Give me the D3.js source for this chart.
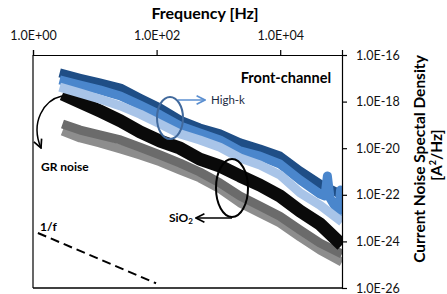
<!DOCTYPE html>
<html lang="en">
<head>
<meta charset="UTF-8">
<title>Current noise spectral density</title>
<script src="https://cdn.jsdelivr.net/npm/d3@7"></script>
<style>
    body { margin: 0; background: #fff; }
    text { font-family: Lato, "Open Sans", sans-serif; }
</style>
</head>
<body>
<svg width="447" height="294"></svg>
<script>

    // frequencies [Hz]
    var freqHighK = [2.7, 5.8, 12, 26, 54, 114, 240, 500, 1060, 2240, 4700, 9900, 21000, 44000, 100000];
    var freqHighK2 = [2.7, 5.8, 12, 26, 54, 114, 240, 500, 1060, 2240, 4700, 9900, 21000, 44000,
        53000, 58000, 64000, 80000, 89000, 94600, 100000];
    var freqSiO2 = [3.0, 5.8, 12, 26, 54, 114, 240, 500, 1060, 2240, 4700, 9900, 21000, 44000, 100000];

    // PSD [A^2/Hz]
    var highK1 = [1.7e-17, 1.0e-17, 6.3e-18, 3.8e-18, 1.4e-18, 5.3e-19, 1.6e-19, 7.4e-20, 4.1e-20,
        1.7e-20, 9.2e-21, 4.6e-21, 1.05e-21, 2.9e-22, 9.8e-23];
    var highK2 = [8.5e-18, 5.1e-18, 3.2e-18, 1.74e-18, 7.1e-19, 2.7e-19, 9.0e-20, 4.5e-20, 2.25e-20,
        7.6e-21, 4.6e-21, 2.1e-21, 4.3e-22, 1.08e-22, 8.9e-23, 6.4e-22, 7.3e-23, 2.7e-23, 1.8e-23,
        1.6e-22, 1.5e-23];
    var highK3 = [4.2e-18, 2.3e-18, 1.3e-18, 6.5e-19, 2.9e-19, 1.1e-19, 4.1e-20, 2.25e-20, 1.1e-20,
        3.8e-21, 1.9e-21, 7.1e-22, 1.2e-22, 3.6e-23, 6.8e-24];
    var sio2Black = [2.1e-18, 9.6e-19, 4.0e-19, 1.5e-19, 5.0e-20, 2.0e-20, 1.0e-20, 3.4e-21, 1.7e-21,
        6.4e-22, 2.6e-22, 8.9e-23, 2.0e-23, 5.6e-24, 7.0e-25];
    var sio2Dark = [1.1e-19, 6.0e-20, 3.7e-20, 2.25e-20, 1.1e-20, 5.1e-21, 2.3e-21, 9.5e-22, 3.2e-22,
        8.9e-23, 3.3e-23, 1.2e-23, 3.1e-24, 8.5e-25, 2.9e-25];
    var sio2Light = [5.5e-20, 2.75e-20, 1.7e-20, 9.2e-21, 5.1e-21, 2.6e-21, 1.16e-21, 5.3e-22, 1.8e-22,
        4.5e-23, 1.66e-23, 6.2e-24, 1.55e-24, 4.3e-25, 1.3e-25];

    // 1/f guide line
    var oneOverFFreq = [1.2, 98];
    var oneOverFPsd = [2.3e-24, 1.6e-26];

    var xTicks = [1, 100, 10000];
    var yTicks = [1e-16, 1e-18, 1e-20, 1e-22, 1e-24, 1e-26];

    var svg = d3.select("svg");
    var pl = 33, pr = 342, pt = 55, pb = 288;

    var x = d3.scaleLog().domain([1, 1e5]).range([pl, pr]);
    var y = d3.scaleLog().domain([1e-26, 1e-16]).range([pb, pt]);

    function fmt(d) {
        var e = Math.round(Math.log10(d));
        return "1.0E" + (e < 0 ? "-" : "+") + String(Math.abs(e)).padStart(2, "0");
    }

    svg.append("defs").append("clipPath").attr("id", "plot")
        .append("rect").attr("x", pl).attr("y", pt)
        .attr("width", pr - pl).attr("height", pb - pt);

    var series = [
        {f: freqSiO2, v: sio2Light, color: "#8d8d8d", w: 9},
        {f: freqSiO2, v: sio2Dark, color: "#6b6b6b", w: 9},
        {f: freqSiO2, v: sio2Black, color: "#0a0a0a", w: 13},
        {f: freqHighK, v: highK1, color: "#1f4e86", w: 9},
        {f: freqHighK2, v: highK2, color: "#4a86cc", w: 9},
        {f: freqHighK, v: highK3, color: "#a8c4e8", w: 9}
    ];

    var line = d3.line()
        .x(function (d) { return x(d[0]); })
        .y(function (d) { return y(d[1]); });

    var g = svg.append("g").attr("clip-path", "url(#plot)");
    series.forEach(function (s) {
        g.append("path")
            .datum(s.f.map(function (f, i) { return [f, s.v[i]]; }))
            .attr("d", line)
            .attr("fill", "none")
            .attr("stroke", s.color)
            .attr("stroke-width", s.w)
            .attr("stroke-linejoin", "round");
    });

    // 1/f dashed
    svg.append("path")
        .datum(oneOverFFreq.map(function (f, i) { return [f, oneOverFPsd[i]]; }))
        .attr("d", line)
        .attr("stroke", "#000")
        .attr("stroke-width", 2)
        .attr("stroke-dasharray", "9,5");

    // frame
    svg.append("line").attr("x1", pl).attr("x2", pl).attr("y1", pt).attr("y2", pb)
        .attr("stroke", "#000").attr("stroke-width", 1.2);
    svg.append("line").attr("x1", pl).attr("x2", pr).attr("y1", pb).attr("y2", pb)
        .attr("stroke", "#000").attr("stroke-width", 1.6);

    svg.append("g")
        .attr("transform", "translate(0," + pt + ")")
        .call(d3.axisTop(x).tickValues(xTicks).tickFormat(fmt).tickSize(5).tickPadding(10));
    svg.append("g")
        .attr("transform", "translate(" + pr + ",0)")
        .call(d3.axisRight(y).tickValues(yTicks).tickFormat(fmt).tickSize(5).tickPadding(9));
    svg.selectAll(".tick text").attr("font-size", 12.5).attr("fill", "#111")
        .style("font-family", "Lato, sans-serif");
    svg.selectAll(".domain, .tick line").attr("stroke", "#000").attr("stroke-width", 1.2);

    // titles
    svg.append("text").attr("x", 205).attr("y", 19).attr("text-anchor", "middle")
        .attr("font-size", 16).attr("font-weight", "bold").text("Frequency [Hz]");

    svg.append("text").attr("transform", "translate(425,159) rotate(-90)")
        .attr("text-anchor", "middle").attr("font-size", 15.5).attr("font-weight", "bold")
        .text("Current Noise Spectal Density");
    var t2 = svg.append("text").attr("transform", "translate(442,155) rotate(-90)")
        .attr("text-anchor", "middle").attr("font-size", 15.5).attr("font-weight", "bold");
    t2.append("tspan").text("[A");
    t2.append("tspan").attr("font-size", 9).attr("dy", -6).text("2");
    t2.append("tspan").attr("dy", 6).text("/Hz]");

    // annotations
    svg.append("text").attr("x", 331).attr("y", 83).attr("text-anchor", "end")
        .attr("font-size", 14.5).attr("font-weight", "bold").text("Front-channel");

    svg.append("defs").html(
        '<marker id="arrB" viewBox="0 0 10 10" refX="9" refY="5" markerWidth="7" markerHeight="7" orient="auto">' +
        '<path d="M1,1L9,5L1,9" fill="none" stroke="#5b8fd0" stroke-width="1.6"/></marker>' +
        '<marker id="arrK" viewBox="0 0 10 10" refX="9" refY="5" markerWidth="7" markerHeight="7" orient="auto">' +
        '<path d="M1,1L9,5L1,9" fill="none" stroke="#000" stroke-width="1.6"/></marker>');

    svg.append("ellipse").attr("cx", 170).attr("cy", 118).attr("rx", 13).attr("ry", 21)
        .attr("fill", "none").attr("stroke", "#41699c").attr("stroke-width", 2);
    svg.append("line").attr("x1", 178).attr("y1", 100).attr("x2", 205).attr("y2", 100)
        .attr("stroke", "#5b8fd0").attr("stroke-width", 1.5).attr("marker-end", "url(#arrB)");
    svg.append("text").attr("x", 211).attr("y", 104).attr("font-size", 11.5)
        .attr("fill", "#1c2a44").text("High-k");

    svg.append("ellipse").attr("cx", 232).attr("cy", 188).attr("rx", 16).attr("ry", 29)
        .attr("fill", "none").attr("stroke", "#000").attr("stroke-width", 2);
    svg.append("line").attr("x1", 232).attr("y1", 218).attr("x2", 196).attr("y2", 218)
        .attr("stroke", "#000").attr("stroke-width", 1.5).attr("marker-end", "url(#arrK)");
    var sio = svg.append("text").attr("x", 169).attr("y", 222).attr("font-size", 12)
        .attr("font-weight", "bold");
    sio.append("tspan").text("SiO");
    sio.append("tspan").attr("font-size", 8).attr("dy", 2).text("2");

    svg.append("path").attr("d", "M62,96 C44,100 30,122 41,148")
        .attr("fill", "none").attr("stroke", "#000").attr("stroke-width", 1.5)
        .attr("marker-end", "url(#arrK)");
    svg.append("text").attr("x", 41).attr("y", 171).attr("font-size", 12)
        .attr("font-weight", "bold").text("GR noise");

    svg.append("text").attr("x", 40).attr("y", 231).attr("font-size", 12)
        .attr("font-weight", "bold").text("1/f");

</script>
</body>
</html>
